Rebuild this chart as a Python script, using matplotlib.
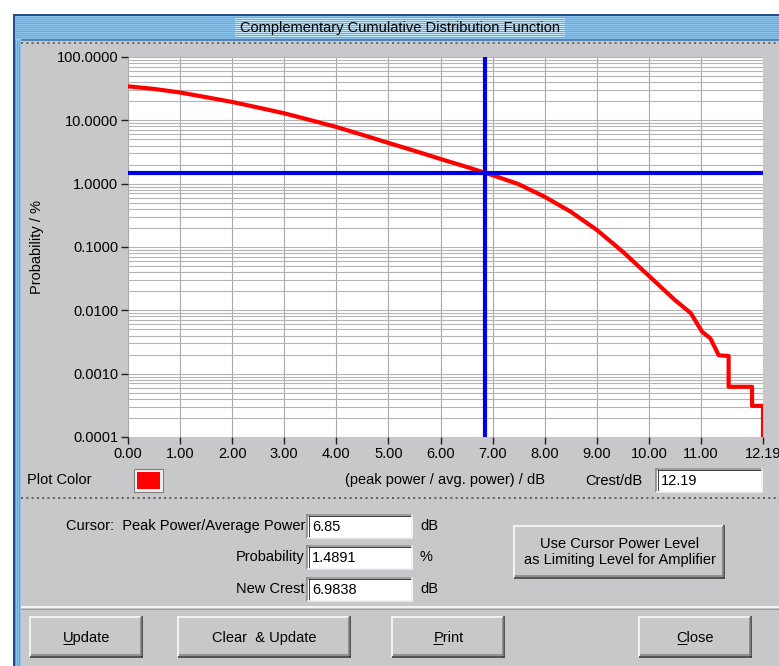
import numpy as np
import matplotlib
matplotlib.use('Agg')
import matplotlib.pyplot as plt
from matplotlib.patches import Rectangle
from matplotlib.ticker import FixedLocator, LogLocator, NullFormatter

plt.rcParams['font.family'] = ['Liberation Sans', 'DejaVu Sans']

# CCDF curve (crest factor in dB, probability in %)
crest_db = [0.0, 0.5, 1.0, 1.5, 2.0, 2.5, 3.0, 3.5, 4.0, 4.5, 5.0, 5.5, 6.0,
            6.5, 6.85, 7.0, 7.5, 8.0, 8.5, 9.0, 9.5, 10.0, 10.5, 10.8,
            11.02, 11.18, 11.34, 11.53, 11.53, 11.98, 11.98, 12.19, 12.19]
prob_pct = [34.4, 31.3, 27.5, 23.2, 19.5, 15.9, 12.9, 10.1, 7.85, 5.9, 4.4,
            3.3, 2.45, 1.84, 1.4891, 1.36, 0.98, 0.62, 0.36, 0.186, 0.084,
            0.035, 0.0145, 0.0091, 0.0046, 0.0036, 0.00195, 0.0019,
            0.00062, 0.00062, 0.00031, 0.00031, 0.0001]

cursor_db = 6.85
cursor_prob = 1.4891
new_crest = 6.9838
crest_max = 12.19

x_ticks = [0, 1, 2, 3, 4, 5, 6, 7, 8, 9, 10, 11, 12.19]
y_ticks = [0.0001, 0.001, 0.01, 0.1, 1, 10, 100]

W, H = 779, 666
GRAY = '#c8c8ca'
DARK = '#808080'
FS = 10.5

fig = plt.figure(figsize=(W / 100, H / 100), dpi=100)
fig.patch.set_facecolor('white')

# background axes in pixel coordinates for the dialog chrome
bg = fig.add_axes([0, 0, 1, 1])
bg.set_xlim(0, W)
bg.set_ylim(H, 0)
bg.axis('off')


def hline(x0, x1, y, color, lw=1, ls='-'):
    bg.plot([x0, x1], [y, y], color=color, lw=lw * 0.72, ls=ls, solid_capstyle='butt')


def vline(x, y0, y1, color, lw=1, ls='-'):
    bg.plot([x, x], [y0, y1], color=color, lw=lw * 0.72, ls=ls, solid_capstyle='butt')


def raised(x0, y0, x1, y1):
    bg.add_patch(Rectangle((x0, y0), x1 - x0, y1 - y0, facecolor=GRAY, edgecolor='none'))
    hline(x0, x1, y0 + 0.5, 'white', 1.5)
    vline(x0 + 0.5, y0, y1, 'white', 1.5)
    hline(x0, x1, y1 - 0.5, '#303030', 1.5)
    vline(x1 - 0.5, y0, y1, '#303030', 1.5)
    hline(x0 + 1, x1 - 1, y1 - 2, DARK, 1.5)
    vline(x1 - 2, y0 + 1, y1 - 1, DARK, 1.5)


def sunken(x0, y0, x1, y1, text=None):
    bg.add_patch(Rectangle((x0, y0), x1 - x0, y1 - y0, facecolor='white', edgecolor='none'))
    hline(x0, x1, y0 + 0.5, DARK, 1.5)
    vline(x0 + 0.5, y0, y1, DARK, 1.5)
    hline(x0 + 1, x1 - 1, y0 + 2, '#404040', 1)
    vline(x0 + 2, y0 + 1, y1 - 1, '#404040', 1)
    hline(x0, x1, y1 - 0.5, '#f0f0f0', 1.5)
    vline(x1 - 0.5, y0, y1, '#f0f0f0', 1.5)
    if text is not None:
        bg.text(x0 + 5, (y0 + y1) / 2 + 1, text, ha='left', va='center', fontsize=FS)


# window frame, title bar
bg.add_patch(Rectangle((14, 14), W - 14, H - 14, facecolor=GRAY, edgecolor='none'))
bg.add_patch(Rectangle((14, 14), W - 14, 26, facecolor='#8cc6ee', edgecolor='none'))
for yy in range(17, 39, 2):
    hline(14, W, yy, '#6aa8de', 1)
bg.add_patch(Rectangle((14, 14), 7, H - 14, facecolor='#8cc6ee', edgecolor='none'))
for xx in range(15, 21, 2):
    vline(xx, 40, H, '#5f9fd8', 1)
hline(14, W, 14.5, '#1f4f8a', 2)
vline(14.5, 14, H, '#1f4f8a', 2)
hline(21, W, 39.5, '#2f6fb0', 1.5)
bg.add_patch(Rectangle((235, 17), 330, 21, facecolor='#c6e6fa', edgecolor='none'))
bg.text(400, 28, 'Complementary Cumulative Distribution Function', ha='center',
        va='center', fontsize=10.5)
hline(21, W, 43, '#6a6a6a', 2, ':')

# plot area
ax = fig.add_axes([128 / W, (H - 437) / H, (763 - 128) / W, (437 - 57) / H])
ax.set_facecolor('white')
ax.set_yscale('log')
ax.set_xlim(0, crest_max)
ax.set_ylim(1e-4, 100)
for s in ax.spines.values():
    s.set_visible(False)

ax.xaxis.set_major_locator(FixedLocator(x_ticks))
ax.set_xticklabels(['%.2f' % v for v in x_ticks])
ax.yaxis.set_major_locator(FixedLocator(y_ticks))
ax.set_yticklabels(['%.4f' % v for v in y_ticks])
ax.yaxis.set_minor_locator(LogLocator(base=10, subs=np.arange(2, 10)))
ax.yaxis.set_minor_formatter(NullFormatter())
ax.tick_params(axis='both', which='major', length=5, width=1, color='#202020',
               labelsize=FS, pad=2)
ax.tick_params(axis='y', which='minor', length=0)
ax.grid(True, axis='x', which='major', color='#a8a8a8', lw=0.8)
ax.grid(True, axis='y', which='both', color='#b4b4b4', lw=0.8)

ax.plot(crest_db, prob_pct, color='#ff0000', lw=3, clip_on=True, zorder=3)
ax.axvline(cursor_db, color='#0000e6', lw=3, zorder=4)
ax.axhline(cursor_prob, color='#0000e6', lw=3, zorder=4)

bg.text(37, 247, 'Probability / %', rotation=90, ha='center', va='center', fontsize=FS)

# plot colour / axis title / crest row
bg.text(27, 480, 'Plot Color', ha='left', va='center', fontsize=FS)
bg.add_patch(Rectangle((134, 469), 29, 23, facecolor='#f0f0f0', edgecolor=DARK, lw=0.8))
bg.add_patch(Rectangle((137, 472), 23, 17, facecolor='#ff0000', edgecolor='none'))
bg.text(445, 480, '(peak power / avg. power) / dB', ha='center', va='center', fontsize=FS)
bg.text(585, 481, 'Crest/dB', ha='left', va='center', fontsize=FS)
sunken(656, 468, 763, 492, '%.2f' % crest_max)

hline(21, W, 498, '#606060', 2, ':')

# cursor read-outs
rows = [('Cursor:  Peak Power/Average Power', '%.2f' % cursor_db, 'dB', 526),
        ('Probability', '%.4f' % cursor_prob, '%', 557),
        ('New Crest', '%.4f' % new_crest, 'dB', 589)]
for label, val, unit, yc in rows:
    bg.text(305, yc, label, ha='right', va='center', fontsize=FS)
    sunken(307, yc - 12, 413, yc + 12, val)
    bg.text(420, yc, unit, ha='left', va='center', fontsize=FS)

raised(514, 525, 725, 578)
bg.text(619.5, 552, 'Use Cursor Power Level\nas Limiting Level for Amplifier',
        ha='center', va='center', fontsize=FS, linespacing=1.2)

hline(21, W, 607, '#f4f4f4', 2)
hline(21, W, 609, '#9a9a9a', 1)

# bottom buttons with mnemonic underline
buttons = [('Update', 0, 30, 143), ('Clear  & Update', None, 178, 351),
           ('Print', 0, 392, 505), ('Close', 0, 639, 752)]
fig.canvas.draw()
renderer = fig.canvas.get_renderer()
for label, ul, x0, x1 in buttons:
    raised(x0, 616, x1, 657)
    t = bg.text((x0 + x1) / 2, 642, label, ha='center', va='baseline', fontsize=FS)
    if ul is not None:
        bb = t.get_window_extent(renderer)
        tmp = bg.text(0, 0, label[:ul + 1], fontsize=FS)
        w = tmp.get_window_extent(renderer).width
        tmp.remove()
        hline(bb.x0, bb.x0 + w, 644, 'black', 1)

fig.savefig('out.png', dpi=100, facecolor='white')
